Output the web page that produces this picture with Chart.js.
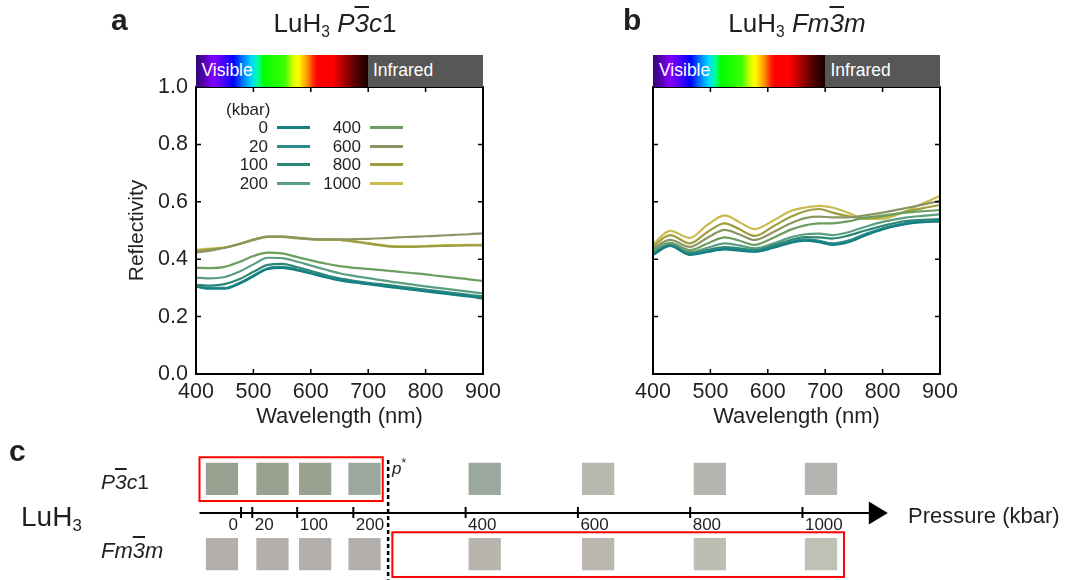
<!DOCTYPE html>
<html lang="en">
<head>
<meta charset="UTF-8">
<title>LuH3 reflectivity under pressure</title>
<style>
  body { margin: 0; background: #fff; font-family: "Liberation Sans", Arial, sans-serif; color: #231f20; }
  #fig { position: relative; width: 1072px; height: 580px; overflow: hidden; }
  #fig canvas { position: absolute; left: 0; top: 0; }
  .t { position: absolute; line-height: 1; white-space: nowrap; }
  .lbl { font-weight: bold; font-size: 30px; }
  .ttl { font-size: 26px; transform: translateX(-50%); }
  .ob { text-decoration: overline; text-decoration-thickness: 1.5px; }
  .it { font-style: italic; }
  .sub { font-size: 0.6em; position: relative; top: 0.3em; }
  .bar { position: absolute; height: 32px; }
  .vis { position: absolute; top: 0; height: 100%;
         background: linear-gradient(to right, #2e0a78 0%, #5a00b4 5%, #8400ff 10%, #4000ff 16.7%, #0000ff 21.7%,
           #0078ff 27.3%, #00d8ff 32.3%, #00ff9c 36%, #00ff00 39.3%, #3cff00 51.7%, #c8ff00 56%, #ffff00 59.3%,
           #ff9c00 64.3%, #ff2000 68.7%, #ff0000 70.7%, #ff0000 79.3%, #a00000 86.7%, #500000 93.3%, #180000 100%); }
  .ir { position: absolute; top: 0; height: 100%; background: #575757; }
  .bar span { position: absolute; top: 7px; color: #fff; font-size: 17.5px; line-height: 1; }
  .leg { position: absolute; font-size: 17px; line-height: 1; }
  .key { position: absolute; height: 2.5px; }
</style>
</head>
<body>
<div id="fig">
  <canvas id="chartA" width="1072" height="580"></canvas>
  <canvas id="chartB" width="1072" height="580"></canvas>
  <canvas id="chartC" width="1072" height="580"></canvas>

  <div class="t lbl" style="left:111px; top:5px;">a</div>
  <div class="t lbl" style="left:623px; top:5px;">b</div>
  <div class="t lbl" style="left:9px; top:436px;">c</div>
  <div class="t ttl" style="left:335px; top:10px;">LuH<span class="sub">3</span> <span class="it">P<span class="ob">3</span>c</span>1</div>
  <div class="t ttl" style="left:797px; top:10px;">LuH<span class="sub">3</span> <span class="it">Fm<span class="ob">3</span>m</span></div>

  <div class="bar" style="left:195.5px; top:55px; width:287.5px;">
    <div class="vis" style="left:0; width:172.2px;"></div>
    <div class="ir" style="left:172.2px; right:0;"></div>
    <span style="left:6px;">Visible</span>
    <span style="left:177.5px;">Infrared</span>
  </div>
  <div class="bar" style="left:653px; top:55px; width:287px;">
    <div class="vis" style="left:0; width:172.2px;"></div>
    <div class="ir" style="left:172.2px; right:0;"></div>
    <span style="left:6px;">Visible</span>
    <span style="left:177.5px;">Infrared</span>
  </div>

  <div id="legendA"></div>

  <div class="t" style="left:101px; top:471px; font-size:21px;"><span class="it">P<span class="ob">3</span>c</span>1</div>
  <div class="t it" style="left:101px; top:540px; font-size:22px;">Fm<span class="ob">3</span>m</div>
  <div class="t" style="left:21px; top:503px; font-size:28px;">LuH<span class="sub">3</span></div>
  <div class="t" style="left:908px; top:505px; font-size:22px;">Pressure (kbar)</div>
  <div class="t" style="left:392px; top:457px; font-size:17px;"><span class="it">p</span><sup style="font-size:12px;">*</sup></div>
</div>

<script src="https://cdn.jsdelivr.net/npm/chart.js"></script>
<script>
  // pressures (kbar) and line colours shared by both panels
  const pressures = [0, 20, 100, 200, 400, 600, 800, 1000];
  const lineColors = ['#127f80', '#2f8a8a', '#2a8776', '#5a9e80', '#6b9e5f', '#8a9562', '#9e9d40', '#c9bb4f'];

  // panel a: P-3c1 reflectivity
  const wlA = [400, 425, 450, 475, 500, 525, 550, 575, 600, 625, 650, 675, 700, 725, 750, 775, 800, 825, 850, 875, 900];
  const refA_0    = [.304, .297, .297, .314, .340, .366, .370, .362, .350, .337, .326, .319, .313, .306, .300, .294, .288, .282, .276, .270, .263];
  const refA_20   = [.307, .300, .300, .317, .343, .368, .373, .365, .352, .340, .329, .321, .315, .308, .302, .296, .290, .284, .278, .272, .267];
  const refA_100  = [.311, .308, .313, .330, .356, .380, .384, .373, .359, .345, .333, .325, .318, .312, .306, .300, .294, .288, .282, .276, .271];
  const refA_200  = [.336, .333, .338, .356, .382, .405, .404, .392, .378, .364, .351, .342, .334, .326, .319, .312, .305, .299, .293, .287, .281];
  const refA_400  = [.370, .369, .373, .390, .411, .423, .420, .408, .396, .385, .376, .370, .366, .362, .357, .352, .347, .341, .336, .330, .324];
  const refA_600  = [.423, .430, .440, .453, .468, .479, .479, .475, .471, .469, .469, .470, .471, .473, .476, .478, .480, .482, .485, .487, .490];
  const refA_800  = [.428, .434, .440, .452, .467, .478, .478, .473, .469, .468, .467, .461, .454, .447, .443, .443, .445, .446, .447, .448, .448];
  const refA_1000 = [.433, .437, .441, .453, .468, .479, .479, .474, .470, .469, .468, .463, .456, .449, .445, .445, .446, .448, .449, .450, .450];

  // panel b: Fm-3m reflectivity
  const wlB = [400, 430, 464, 495, 525, 550, 577, 610, 640, 665, 690, 712, 740, 770, 800, 840, 870, 900];
  const refB_0    = [.415, .446, .415, .425, .434, .430, .426, .440, .457, .465, .459, .450, .459, .483, .504, .522, .529, .531];
  const refB_20   = [.418, .447, .417, .428, .437, .433, .428, .443, .461, .469, .464, .455, .465, .488, .508, .526, .532, .534];
  const refB_100  = [.422, .448, .420, .432, .442, .438, .432, .448, .467, .477, .476, .472, .482, .500, .516, .533, .537, .540];
  const refB_200  = [.427, .452, .425, .440, .455, .448, .438, .455, .476, .487, .489, .484, .494, .513, .530, .545, .551, .556];
  const refB_400  = [.432, .457, .432, .455, .476, .465, .450, .475, .503, .518, .525, .525, .532, .545, .552, .562, .567, .571];
  const refB_600  = [.438, .467, .443, .475, .502, .487, .467, .495, .525, .543, .548, .546, .546, .553, .562, .578, .590, .603];
  const refB_800  = [.445, .484, .455, .495, .525, .505, .481, .515, .548, .567, .575, .563, .550, .542, .548, .565, .578, .589];
  const refB_1000 = [.452, .499, .474, .520, .553, .530, .505, .535, .568, .580, .586, .580, .562, .540, .541, .567, .594, .621];

  // panel c: colour swatches per pressure
  const swatchP3c1 = ['#98a18f', '#98a18f', '#99a290', '#9aa89d', '#9ba89e', '#b4b8ae', '#b3b6af', '#b3b5b0'];
  const swatchFm3m = ['#b3afad', '#b3afad', '#b3afad', '#b3afad', '#b8b4ae', '#bbb6ae', '#bdbeb2', '#bfc1b5'];
  const pStar = 262;

  // schematic layout (not data): swatch offset from its tick, in kbar
  const swatchShift = [-34, 36, 32, 20, 34, 36, 35, 33];
  const rowY = [1, -1.2];

  const INK = '#231f20';
  const FONT = '"Liberation Sans", Arial, sans-serif';
  Chart.defaults.font.family = FONT;
  Chart.defaults.color = INK;

  // box with inward ticks on all four sides
  const framePlugin = {
    id: 'frame',
    afterDraw(chart) {
      const {ctx, chartArea: a, scales: {x, y}} = chart;
      ctx.save();
      ctx.strokeStyle = '#000';
      ctx.lineWidth = 1.5;
      ctx.beginPath();
      x.ticks.forEach(t => {
        const p = x.getPixelForValue(t.value);
        ctx.moveTo(p, a.bottom); ctx.lineTo(p, a.bottom - 5);
        ctx.moveTo(p, a.top); ctx.lineTo(p, a.top + 5);
      });
      y.ticks.forEach(t => {
        const p = y.getPixelForValue(t.value);
        ctx.moveTo(a.left, p); ctx.lineTo(a.left + 5, p);
        ctx.moveTo(a.right, p); ctx.lineTo(a.right - 5, p);
      });
      ctx.stroke();
      ctx.lineWidth = 2;
      ctx.strokeRect(a.left, a.top, a.width, a.height);
      ctx.restore();
    }
  };

  function spectrumChart(id, wl, series, showY, padLeft, yWidth, padRight) {
    return new Chart(document.getElementById(id), {
      type: 'line',
      data: {
        datasets: series.map((s, i) => ({
          label: pressures[i] + ' kbar',
          data: wl.map((w, j) => ({x: w, y: s[j]})),
          borderColor: lineColors[i],
          borderWidth: 2.2,
          pointRadius: 0,
          cubicInterpolationMode: 'monotone',
          fill: false
        }))
      },
      options: {
        responsive: false,
        animation: false,
        events: [],
        layout: {autoPadding: false, padding: {left: padLeft, right: padRight, top: 87, bottom: 150}},
        plugins: {legend: {display: false}, tooltip: {enabled: false}},
        scales: {
          x: {
            type: 'linear', min: 400, max: 900,
            grid: {display: false, drawTicks: false},
            border: {display: false},
            ticks: {stepSize: 100, font: {size: 21.5}, color: INK, padding: 5, maxRotation: 0},
            title: {display: true, text: 'Wavelength (nm)', font: {size: 22}, color: INK, padding: 0},
            afterFit(s) { s.height = 56; s.paddingLeft = 0; s.paddingRight = 0; }
          },
          y: {
            min: 0, max: 1,
            grid: {display: false, drawTicks: false},
            border: {display: false},
            ticks: {display: showY, stepSize: 0.2, font: {size: 21.5}, color: INK, padding: 8,
                    callback: v => v.toFixed(1)},
            title: {display: showY, text: 'Reflectivity', font: {size: 21}, color: INK, padding: 0},
            afterFit(s) { s.width = yWidth; s.paddingTop = 0; s.paddingBottom = 0; }
          }
        }
      },
      plugins: [framePlugin]
    });
  }

  spectrumChart('chartA', wlA, [refA_0, refA_20, refA_100, refA_200, refA_400, refA_600, refA_800, refA_1000],
                true, 124.4, 71.6, 589);
  spectrumChart('chartB', wlB, [refB_0, refB_20, refB_100, refB_200, refB_400, refB_600, refB_800, refB_1000],
                false, 600, 53, 132);

  // legend of panel a, two columns of four
  const legendA = document.getElementById('legendA');
  legendA.innerHTML = '<div class="leg" style="left:226px; top:101px;">(kbar)</div>';
  pressures.forEach((p, i) => {
    const col = Math.floor(i / 4), row = i % 4;
    const cy = Math.round(126.7 + row * 18.8);
    const right = col ? 361 : 268;
    legendA.innerHTML +=
      `<div class="leg" style="left:${right - 50}px; width:50px; text-align:right; top:${cy - 8}px;">${p}</div>` +
      `<div class="key" style="left:${right + 9}px; width:33px; top:${cy - 1}px; background:${lineColors[i]};"></div>`;
  });

  // pressure axis, p* marker and highlight boxes of panel c
  const pressureAxis = {
    id: 'pressureAxis',
    afterDatasetsDraw(chart) {
      const {ctx, scales: {x, y}} = chart;
      const y0 = y.getPixelForValue(0);
      const xs = x.getPixelForValue(x.min), xe = x.getPixelForValue(x.max);
      ctx.save();
      ctx.strokeStyle = '#000';
      ctx.fillStyle = '#000';
      ctx.lineWidth = 2;
      ctx.beginPath(); ctx.moveTo(xs, y0); ctx.lineTo(xe - 15, y0); ctx.stroke();
      ctx.beginPath(); ctx.moveTo(xe, y0); ctx.lineTo(xe - 19, y0 - 11.5); ctx.lineTo(xe - 19, y0 + 11.5);
      ctx.closePath(); ctx.fill();

      ctx.font = '17px ' + FONT;
      ctx.textBaseline = 'middle';
      ctx.fillStyle = INK;
      pressures.forEach((p, i) => {
        const px = x.getPixelForValue(p);
        ctx.beginPath(); ctx.moveTo(px, y0 - 6); ctx.lineTo(px, y0 + 5); ctx.stroke();
        ctx.textAlign = i === 0 ? 'right' : 'left';
        ctx.fillText(String(p), i === 0 ? px - 3 : px + 2.5, y0 + 12);
      });

      const ps = x.getPixelForValue(pStar);
      ctx.setLineDash([4, 3]);
      ctx.lineWidth = 2.5;
      ctx.beginPath(); ctx.moveTo(ps, y.getPixelForValue(1.55)); ctx.lineTo(ps, y.getPixelForValue(-1.95)); ctx.stroke();
      ctx.setLineDash([]);

      ctx.strokeStyle = '#ff0000';
      ctx.lineWidth = 2;
      const box = (x1, x2, y1, y2) => {
        const l = x.getPixelForValue(x1), r = x.getPixelForValue(x2);
        const t = y.getPixelForValue(y1), b = y.getPixelForValue(y2);
        ctx.strokeRect(l, t, r - l, b - t);
      };
      box(x.min, 252.4, 1.63, 0.35);
      box(269.5, 1074, -0.564, -1.87);
      ctx.restore();
    }
  };

  new Chart(document.getElementById('chartC'), {
    type: 'scatter',
    data: {
      datasets: [
        {label: 'P-3c1', data: pressures.map((p, i) => ({x: p + swatchShift[i], y: rowY[0]})),
         pointBackgroundColor: swatchP3c1},
        {label: 'Fm-3m', data: pressures.map((p, i) => ({x: p + swatchShift[i], y: rowY[1]})),
         pointBackgroundColor: swatchFm3m}
      ]
    },
    options: {
      responsive: false,
      animation: false,
      events: [],
      layout: {autoPadding: false, padding: {left: 199.5, right: 184.2, top: 446.3, bottom: 0.3}},
      plugins: {legend: {display: false}, tooltip: {enabled: false}},
      elements: {point: {pointStyle: 'rect', radius: 22.8, borderWidth: 0}},
      datasets: {scatter: {clip: false}},
      scales: {
        x: {type: 'linear', min: -74, max: 1152, display: false},
        y: {type: 'linear', min: -1.95, max: 1.95, display: false}
      }
    },
    plugins: [pressureAxis]
  });
</script>
</body>
</html>
